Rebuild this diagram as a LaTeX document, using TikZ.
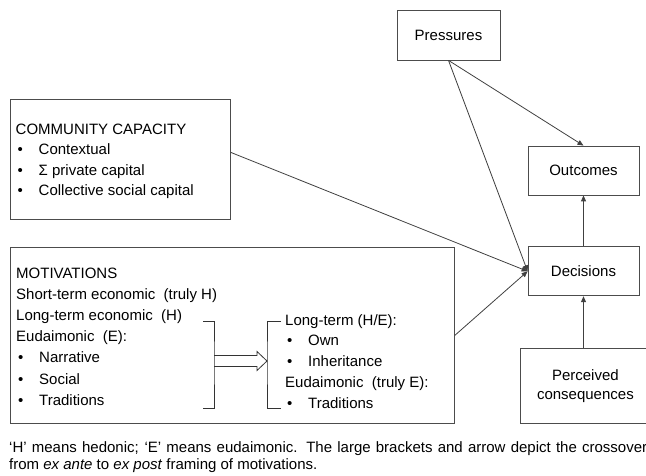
\documentclass[tikz,border=0pt]{standalone}
\usepackage{fontspec}
\setmainfont{Liberation Sans}
\usetikzlibrary{arrows.meta, positioning}

\newcommand{\blt}[1]{\makebox[23pt][l]{\hspace{2pt}\textbullet}#1}

\begin{document}
\begin{tikzpicture}[
    x=1pt, y=-1pt,
    every node/.style={inner sep=0pt},
    box/.style={draw=black!70, line width=0.8pt, rectangle, align=center,
        font=\fontsize{15}{19}\selectfont},
    para/.style={anchor=base west, align=left},
    link/.style={draw=black!75, line width=0.8pt, -{Triangle[length=6pt, width=5pt]}},
    bracket/.style={draw=black!80, line width=1pt},
    node distance={51pt}
]

\useasboundingbox (0,0) rectangle (646,476);

\node[box, minimum width=103pt, minimum height=50pt] (pressures) at (448.5,35) {Pressures};
\node[box, minimum width=111pt, minimum height=49pt] (outcomes) at (583.5,170.5) {Outcomes};
\node[box, minimum width=111pt, minimum height=49pt] (decisions) [below=of outcomes] {Decisions};
\node[box, minimum width=130pt, minimum height=75pt, anchor=north west] (perceived) at (520,348) {Perceived\\consequences};

% texts are placed at the baseline of their last line
\node[box, minimum width=220pt, minimum height=120pt, anchor=north west] (community) at (10,99) {};
\node[para, font=\fontsize{15}{20.3}\selectfont] (commtext) at (15.5,195.4)
    {COMMUNITY CAPACITY\\ \blt{Contextual}\\ \blt{Σ private capital}\\ \blt{Collective\ social\ capital}};

\node[box, minimum width=444pt, minimum height=176pt, anchor=north west] (motivations) at (10,247) {};
\node[para, font=\fontsize{15}{21.2}\selectfont] (exante) at (16,405.2)
    {MOTIVATIONS\\ Short-term economic\ \ (truly H)\\ Long-term economic\ \ (H)\\ Eudaimonic\ \ (E):\\
     \blt{Narrative}\\ \blt{Social}\\ \blt{Traditions}};
\node[para, font=\fontsize{15}{20.75}\selectfont] (expost) at (285,408)
    {Long-term (H/E):\\ \blt{Own}\\ \blt{Inheritance}\\ Eudaimonic\ \ (truly E):\\ \blt{Traditions}};

% brackets and the crossover arrow
\coordinate (from) at (214,361);
\coordinate (to) at (267,361);
\draw[bracket] (203,321) -| (from) |- (203,408);
\draw[bracket] (281,321) -| (to) |- (281,408);
\draw[bracket, line width=0.8pt] ([yshift=5.5pt]from) -- ([xshift=-10pt,yshift=5.5pt]to)
    -- ([xshift=-10pt,yshift=9.5pt]to) -- (to) -- ([xshift=-10pt,yshift=-9.5pt]to)
    -- ([xshift=-10pt,yshift=-5.5pt]to) -- ([yshift=-5.5pt]from);

\draw[link] ([yshift=7pt]community.east) -- (decisions.west);
\draw[link] (motivations.east) -- (decisions.west);
\draw[link] (pressures.south) -- (decisions.west);
\draw[link] (pressures.south) -- (outcomes.north);
\draw[link] (decisions) -- (outcomes);
\draw[link] (perceived.north -| decisions.south) -- (decisions.south);

\node[para, font=\fontsize{15}{17.5}\selectfont] (note) at (9,469.5)
    {\makebox[638pt][s]{‘H’ means hedonic; ‘E’ means eudaimonic. The large brackets and arrow depict the crossover}\\
     from \textit{ex ante} to \textit{ex post} framing of motivations.};

\end{tikzpicture}
\end{document}
